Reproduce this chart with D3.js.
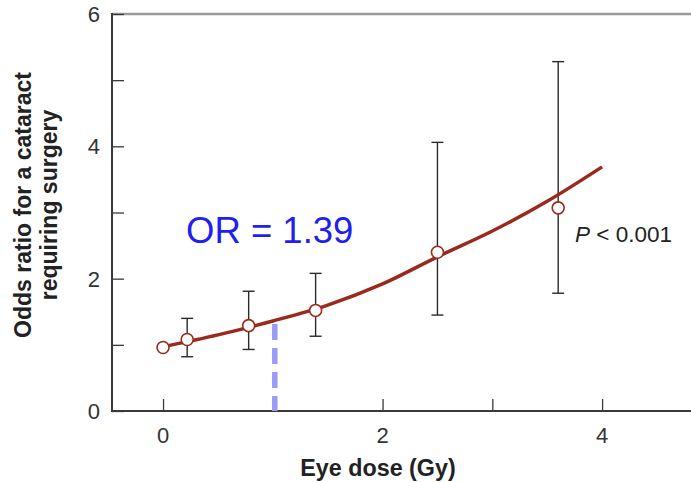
<!DOCTYPE html>
<html>
<head>
<meta charset="utf-8">
<script src="https://cdn.jsdelivr.net/npm/d3@7"></script>
<style>
  html, body { margin: 0; padding: 0; background: #fff; }
  svg { display: block; }
</style>
</head>
<body>
<svg id="chart" width="691" height="482"></svg>
<script>
// observed odds ratios with 95% CI
const doses = [0, 0.22, 0.78, 1.39, 2.5, 3.6]
const oddsRatio = [0.96, 1.08, 1.29, 1.52, 2.4, 3.07]
const ciLow = [null, 0.82, 0.93, 1.13, 1.45, 1.78]
const ciHigh = [null, 1.4, 1.81, 2.08, 4.06, 5.28]

// fitted curve
const fitDose = [0, 0.5, 1, 1.5, 2, 2.5, 3, 3.5, 4]
const fitOR = [0.97, 1.15, 1.36, 1.6, 1.92, 2.33, 2.72, 3.17, 3.69]

const xTicks = [0, 1, 2, 3, 4]
const xLabels = [0, 2, 4]
const yTicks = [0, 1, 2, 3, 4, 5, 6]
const yLabels = [0, 2, 4, 6]

const width = 691, height = 482
const margin = {top: 14, right: 0, bottom: 71, left: 112}

const svg = d3.select("#chart")
const font = "Liberation Sans, Arial, sans-serif"

const x = d3.scaleLinear().domain([-0.465, 4.81]).range([margin.left, width - margin.right])
const y = d3.scaleLinear().domain([0, 6]).range([height - margin.bottom, margin.top])

const axisColor = "#3a3a3a"
const red = "#9a2a1c"

// top frame line
svg.append("line")
  .attr("x1", margin.left).attr("x2", width)
  .attr("y1", y(6)).attr("y2", y(6))
  .attr("stroke", "#9a9a9a").attr("stroke-width", 2.5)

// y axis (ticks point inward)
const yAxis = svg.append("g").attr("transform", `translate(${margin.left},0)`)
  .call(d3.axisRight(y).tickValues(yTicks).tickSize(12).tickFormat(""))
yAxis.select(".domain").remove()
yAxis.selectAll("line").attr("stroke", axisColor).attr("stroke-width", 1.3)
svg.append("line")
  .attr("x1", margin.left).attr("x2", margin.left)
  .attr("y1", y(6) - 1).attr("y2", y(0) + 1)
  .attr("stroke", axisColor).attr("stroke-width", 2)

svg.append("g").selectAll("text").data(yLabels).join("text")
  .attr("x", 100).attr("y", d => y(d)).attr("dy", "0.36em")
  .attr("text-anchor", "end")
  .attr("font-family", font).attr("font-size", 22).attr("fill", "#333")
  .text(d => d)

// x axis (ticks point inward)
const xAxis = svg.append("g").attr("transform", `translate(0,${y(0)})`)
  .call(d3.axisTop(x).tickValues(xTicks).tickSize(12).tickFormat(""))
xAxis.select(".domain").remove()
xAxis.selectAll("line").attr("stroke", axisColor).attr("stroke-width", 1.3)
svg.append("line")
  .attr("x1", margin.left - 1).attr("x2", width)
  .attr("y1", y(0)).attr("y2", y(0))
  .attr("stroke", axisColor).attr("stroke-width", 2)

svg.append("g").selectAll("text").data(xLabels).join("text")
  .attr("x", d => x(d)).attr("y", 443)
  .attr("text-anchor", "middle")
  .attr("font-family", font).attr("font-size", 22).attr("fill", "#333")
  .text(d => d)

// axis titles
svg.append("text")
  .attr("x", 378).attr("y", 476)
  .attr("text-anchor", "middle")
  .attr("font-family", font).attr("font-size", 23.3).attr("font-weight", "bold")
  .attr("fill", "#222")
  .text("Eye dose (Gy)")

const yTitle = svg.append("text")
  .attr("transform", "translate(31,205) rotate(-90)")
  .attr("text-anchor", "middle")
  .attr("font-family", font).attr("font-size", 23).attr("font-weight", "bold")
  .attr("fill", "#222")
yTitle.append("tspan").attr("x", 0).attr("y", 0).text("Odds ratio for a cataract")
yTitle.append("tspan").attr("x", 0).attr("y", 26).text("requiring surgery")

// blue dashed reference at 1 Gy
const curveAt1 = fitOR[fitDose.indexOf(1)]
svg.append("line")
  .attr("x1", x(1) + 2).attr("x2", x(1) + 2)
  .attr("y1", y(curveAt1) + 3).attr("y2", y(0))
  .attr("stroke", "#9b9bf5").attr("stroke-width", 5.5)
  .attr("stroke-dasharray", "16,8")

// error bars
const bars = doses.map((d, i) => ({d, lo: ciLow[i], hi: ciHigh[i]})).filter(b => b.lo != null)
const eb = svg.append("g").attr("stroke", "#2a2a2a").attr("stroke-width", 1.4)
eb.selectAll(".v").data(bars).join("line")
  .attr("x1", b => x(b.d)).attr("x2", b => x(b.d))
  .attr("y1", b => y(b.lo)).attr("y2", b => y(b.hi))
eb.selectAll(".t").data(bars.flatMap(b => [[b.d, b.lo], [b.d, b.hi]])).join("line")
  .attr("x1", p => x(p[0]) - 6).attr("x2", p => x(p[0]) + 6)
  .attr("y1", p => y(p[1])).attr("y2", p => y(p[1]))

// fitted curve
const line = d3.line()
  .x((d, i) => x(fitDose[i]))
  .y(d => y(d))
  .curve(d3.curveCatmullRom)
svg.append("path")
  .datum(fitOR)
  .attr("d", line)
  .attr("fill", "none").attr("stroke", red).attr("stroke-width", 3.5)

// points
svg.append("g").selectAll("circle").data(doses).join("circle")
  .attr("cx", d => x(d)).attr("cy", (d, i) => y(oddsRatio[i]))
  .attr("r", 6)
  .attr("fill", "#fff").attr("stroke", red).attr("stroke-width", 1.6)

// annotations
svg.append("text")
  .attr("x", 186).attr("y", 243)
  .attr("font-family", font).attr("font-size", 36.5).attr("fill", "#1f1ff0")
  .text("OR = 1.39")

const pText = svg.append("text")
  .attr("x", 575).attr("y", 242)
  .attr("font-family", font).attr("font-size", 22.5).attr("fill", "#222")
pText.append("tspan").attr("font-style", "italic").text("P")
pText.append("tspan").text(" < 0.001")
</script>
</body>
</html>
